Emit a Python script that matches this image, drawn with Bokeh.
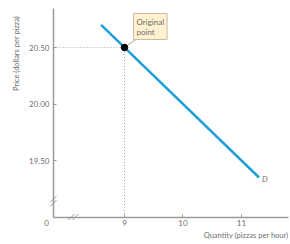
import math
from bokeh.plotting import figure
from bokeh.models import Range1d, FixedTicker, Label
from bokeh.embed import file_html
from bokeh.resources import INLINE

# Data
demand_q = [8.6, 11.3]
demand_p = [20.7, 19.35]
orig_q = [9]
orig_p = [20.5]
x_ticks = [9, 10, 11]
y_ticks = [19.5, 20.0, 20.5]
y_tick_labels = ["19.50", "20.00", "20.50"]

# view and axis extents (data units)
VX0, VX1 = 6.880, 11.838
VY0, VY1 = 18.757, 20.916
AX_X0, AX_X1 = 7.786, 11.803   # x-axis extent; y axis sits at AX_X0
AX_Y0, AX_Y1 = 19.0, 20.845    # y-axis extent; x axis sits at AX_Y0
PXX = 58.5   # px per x unit
PXY = 113.0  # px per y unit

FONT = "Lato"
GRAY_AX = "#9a9a9a"
GRAY_TXT = "#6e6e6e"

p = figure(width=290, height=244, output_backend="svg", toolbar_location=None,
           x_range=Range1d(VX0, VX1), y_range=Range1d(VY0, VY1),
           min_border_left=0, min_border_right=0, min_border_top=0, min_border_bottom=0)
p.outline_line_color = None
p.xgrid.visible = False
p.ygrid.visible = False

for ax in (p.xaxis[0], p.yaxis[0]):
    ax.axis_line_color = GRAY_AX
    ax.axis_line_width = 1.5
    ax.major_tick_line_color = GRAY_AX
    ax.major_tick_in = 3
    ax.major_tick_out = 0
    ax.minor_tick_line_color = None
    ax.major_label_text_color = GRAY_TXT
    ax.major_label_text_font = FONT
    ax.major_label_text_font_size = "8px"

p.xaxis.fixed_location = AX_Y0
p.xaxis.bounds = (AX_X0, AX_X1)
p.xaxis.ticker = FixedTicker(ticks=x_ticks)
p.xaxis.major_label_standoff = 3
p.yaxis.fixed_location = AX_X0
p.yaxis.bounds = (AX_Y0, AX_Y1)
p.yaxis.ticker = FixedTicker(ticks=y_ticks)
p.yaxis.major_label_overrides = {t: l for t, l in zip(y_ticks, y_tick_labels)}
p.yaxis.major_label_standoff = 4

# dotted guides
p.line([AX_X0, orig_q[0]], [orig_p[0], orig_p[0]], line_color="#a8a8a8", line_dash="1 2", line_width=1)
p.line([orig_q[0], orig_q[0]], [AX_Y0, orig_p[0]], line_color="#a8a8a8", line_dash="1 2", line_width=1)

# demand curve
p.line(demand_q, demand_p, line_color="#1f9fd8", line_width=2.5)

# leader line from point to the note box
p.line([orig_q[0], orig_q[0] + 17 / PXX], [orig_p[0], orig_p[0] + 12 / PXY],
       line_color="#b0a890", line_width=1)

# point
p.scatter(orig_q, orig_p, size=6.5, color="black")

# annotation box
p.add_layout(Label(x=orig_q[0] + 9 / PXX, y=orig_p[0] + 34 / PXY, text="Original\npoint",
                   text_font=FONT, text_font_size="8px",
                   text_color=GRAY_TXT, text_align="left", text_baseline="top",
                   background_fill_color="#fdf1cf", border_line_color="#c9bd9c",
                   padding=3, text_line_height=1.0))

# D label
p.add_layout(Label(x=demand_q[-1] + 3 / PXX, y=demand_p[-1] - 2 / PXY, text="D", text_font=FONT,
                   text_font_size="8px", text_font_style="italic", text_color=GRAY_TXT,
                   text_align="left", text_baseline="middle"))

# axis titles
p.add_layout(Label(x=AX_X0 - 37 / PXX, y=AX_Y1 - 45 / PXY, text="Price (dollars per pizza)",
                   angle=math.pi / 2, text_font=FONT, text_font_size="7.5px",
                   text_color=GRAY_TXT, text_align="center", text_baseline="middle"))
p.add_layout(Label(x=AX_X1, y=AX_Y0 - 18 / PXY, text="Quantity (pizzas per hour)", text_font=FONT,
                   text_font_size="7.5px", text_color=GRAY_TXT, text_align="right",
                   text_baseline="middle"))

# origin label
p.add_layout(Label(x=AX_X0 - 7 / PXX, y=AX_Y0 - 6 / PXY, text="0", text_font=FONT,
                   text_font_size="8px", text_color=GRAY_TXT, text_align="center",
                   text_baseline="middle"))

# axis break marks (two short slanted strokes on each axis)
by = AX_Y0 + 16 / PXY
bx = AX_X0 + 20 / PXX
p.segment(x0=[AX_X0 - 3 / PXX, AX_X0 - 3 / PXX], y0=[by - 5 / PXY, by - 1 / PXY],
          x1=[AX_X0 + 3 / PXX, AX_X0 + 3 / PXX], y1=[by + 1 / PXY, by + 5 / PXY],
          line_color=GRAY_AX, line_width=1)
p.segment(x0=[bx - 5 / PXX, bx - 1 / PXX], y0=[AX_Y0 - 3 / PXY, AX_Y0 - 3 / PXY],
          x1=[bx + 1 / PXX, bx + 5 / PXX], y1=[AX_Y0 + 3 / PXY, AX_Y0 + 3 / PXY],
          line_color=GRAY_AX, line_width=1)

open("out.html", "w").write(file_html(p, INLINE))
